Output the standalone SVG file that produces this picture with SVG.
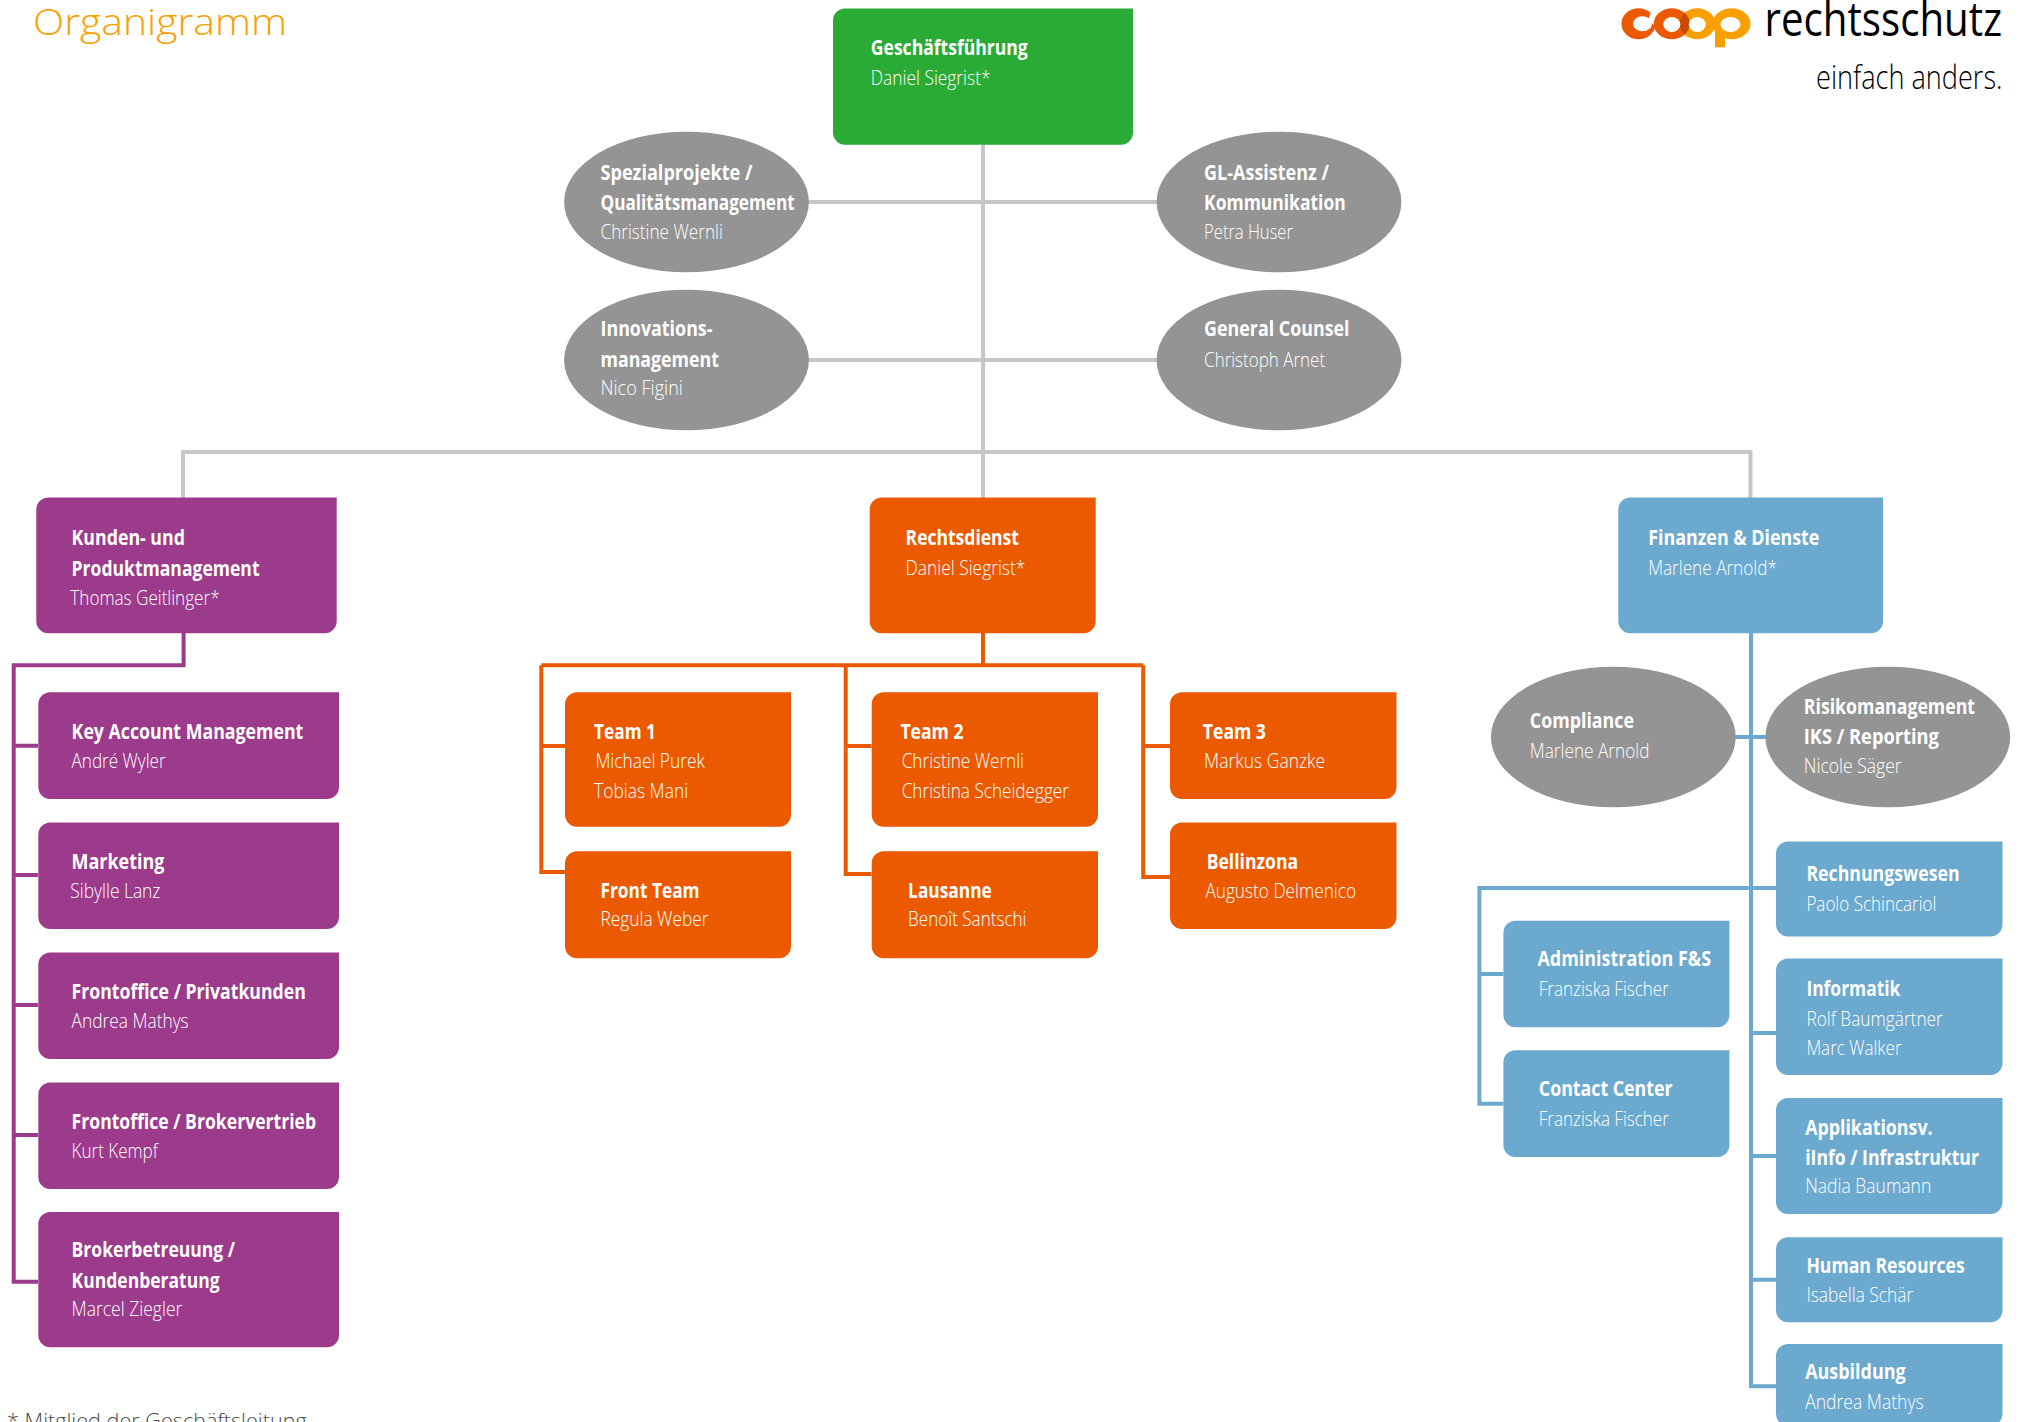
<svg xmlns="http://www.w3.org/2000/svg" width="2018" height="1422" viewBox="0 0 2018 1422">
<style>
.l{fill:none;stroke-width:4}
.g{stroke:#c6c6c6}.pl{stroke:#9c3a8c}.ol{stroke:#eb5a00}.bl{stroke:#6ba9cf}
.grn{fill:#29ab36}.pu{fill:#9c3a8c}.or{fill:#eb5a00}.bu{fill:#6ba9cf}.gy{fill:#949494}
text{font-family:"Open Sans","Noto Sans",sans-serif}
.b{fill:#fff;font-size:20.5px;font-weight:700;transform:translateX(.8px)}
.n{fill:#fff;font-size:20.5px;font-weight:300;transform:translateX(.8px)}
</style>
<defs><clipPath id="o2clip"><ellipse cx="1697.300" cy="23.800" rx="18" ry="15.500"/></clipPath></defs>
<rect width="2018" height="1422" fill="#fff"/>
<text id="title" x="33" y="34.500" font-size="37.500" font-weight="300" fill="#f9a000" textLength="254" lengthAdjust="spacingAndGlyphs">Organigramm</text>
<g id="logo">
<ellipse cx="1638.500" cy="23.800" rx="17" ry="15.500" fill="#eb5a00"/>
<ellipse cx="1642.500" cy="23.800" rx="9.500" ry="7.500" fill="#fff"/>
<path d="M1648 20L1653 7H1664L1655 26z" fill="#fff"/>
<ellipse cx="1671.800" cy="23.800" rx="18" ry="15.500" fill="#eb5a00"/>
<ellipse cx="1697.300" cy="23.800" rx="18" ry="15.500" fill="#f9a000"/>
<ellipse cx="1671.800" cy="23.800" rx="18" ry="15.500" fill="#c94a00" clip-path="url(#o2clip)"/>
<rect x="1715" y="26" width="10" height="21.300" fill="#f9a000"/>
<ellipse cx="1731.500" cy="23.800" rx="19" ry="15.500" fill="#f9a000"/>
<ellipse cx="1671.800" cy="24.500" rx="8.500" ry="7.500" fill="#fff"/>
<ellipse cx="1697.300" cy="24.500" rx="8.500" ry="7.500" fill="#fff"/>
<ellipse cx="1730.500" cy="24.500" rx="10" ry="7.500" fill="#fff"/>
</g>
<text id="logotext" x="1764.500" y="36" font-size="47" fill="#000" textLength="237.500" lengthAdjust="spacingAndGlyphs">rechtsschutz</text>
<text id="slogan" x="1816" y="89" font-size="33" font-weight="300" fill="#000" textLength="186.500" lengthAdjust="spacingAndGlyphs">einfach anders.</text>
<text id="footnote" x="7" y="1427.500" font-size="21" font-weight="300" fill="#4a4a4a" textLength="299.700" lengthAdjust="spacingAndGlyphs">* Mitglied der Geschäftsleitung</text>
<g id="connectors">
<path class="l g" d="M983 144V498M808 202H1157M808 360H1157M183 498V452H1750.500V498"/>
<path class="l pl" d="M183.600 633V665.300H13.700V1281.700H38M13.700 745.700H38M13.700 875H38M13.700 1005H38M13.700 1135H38"/>
<path class="l ol" d="M983 633V665.300M541.300 665.300H1143.200M541.300 665.300V872H565M541.300 746H565M845.700 665.300V874H871.500M845.700 746H871.500M1143.200 665.300V877H1170M1143.200 746H1170"/>
<path class="l bl" d="M1751 633V1386.300H1776M1735 737H1766M1776 888H1479.400V1103.700H1503.400M1479.400 974H1503.400M1751 1033H1776M1751 1156H1776M1751 1279.800H1776"/>
</g>
<g id="n-gf"><path class="grn" d="M845 8.500H1133V132.700a12 12 0 0 1 -12 12H845a12 12 0 0 1 -12 -12V20.500a12 12 0 0 1 12 -12z"/>
<text class="b" x="870" y="55.100" textLength="157" lengthAdjust="spacingAndGlyphs">Geschäftsführung</text><text class="n" x="870" y="84.700" textLength="119.700" lengthAdjust="spacingAndGlyphs">Daniel Siegrist*</text></g>
<g id="n-spez"><ellipse class="gy" cx="686.500" cy="202" rx="122.400" ry="70.300"/>
<text class="b" x="599.700" y="180" textLength="151.900" lengthAdjust="spacingAndGlyphs">Spezialprojekte /</text><text class="b" x="599.700" y="209.600" textLength="194.300" lengthAdjust="spacingAndGlyphs">Qualitätsmanagement</text><text class="n" x="599.700" y="239.200" textLength="122.300" lengthAdjust="spacingAndGlyphs">Christine Wernli</text></g>
<g id="n-gl"><ellipse class="gy" cx="1279" cy="202" rx="122.400" ry="70.300"/>
<text class="b" x="1203.300" y="180" textLength="124.800" lengthAdjust="spacingAndGlyphs">GL-Assistenz /</text><text class="b" x="1203.300" y="209.600" textLength="141.600" lengthAdjust="spacingAndGlyphs">Kommunikation</text><text class="n" x="1203.300" y="239.200" textLength="88.800" lengthAdjust="spacingAndGlyphs">Petra Huser</text></g>
<g id="n-inno"><ellipse class="gy" cx="686.500" cy="360" rx="122.400" ry="70.300"/>
<text class="b" x="599.700" y="335.700" textLength="112" lengthAdjust="spacingAndGlyphs">Innovations-</text><text class="b" x="599.700" y="366.600" textLength="118.400" lengthAdjust="spacingAndGlyphs">management</text><text class="n" x="599.700" y="394.900" textLength="82.400" lengthAdjust="spacingAndGlyphs">Nico Figini</text></g>
<g id="n-gc"><ellipse class="gy" cx="1279" cy="360" rx="122.400" ry="70.300"/>
<text class="b" x="1203.300" y="335.700" textLength="145.400" lengthAdjust="spacingAndGlyphs">General Counsel</text><text class="n" x="1203.300" y="366.600" textLength="121" lengthAdjust="spacingAndGlyphs">Christoph Arnet</text></g>
<g id="n-kunden"><path class="pu" d="M48.300 497.500H336.700V621.300a12 12 0 0 1 -12 12H48.300a12 12 0 0 1 -12 -12V509.500a12 12 0 0 1 12 -12z"/>
<text class="b" x="70.800" y="545.200" textLength="113.300" lengthAdjust="spacingAndGlyphs">Kunden- und</text><text class="b" x="70.800" y="575.500" textLength="187.900" lengthAdjust="spacingAndGlyphs">Produktmanagement</text><text class="n" x="69.500" y="604.500" textLength="149.300" lengthAdjust="spacingAndGlyphs">Thomas Geitlinger*</text></g>
<g id="n-recht"><path class="or" d="M881.700 497.500H1095.700V621.300a12 12 0 0 1 -12 12H881.700a12 12 0 0 1 -12 -12V509.500a12 12 0 0 1 12 -12z"/>
<text class="b" x="904.800" y="545.200" textLength="113.300" lengthAdjust="spacingAndGlyphs">Rechtsdienst</text><text class="n" x="904.800" y="575.100" textLength="119.700" lengthAdjust="spacingAndGlyphs">Daniel Siegrist*</text></g>
<g id="n-fin"><path class="bu" d="M1630.300 497.500H1883V621.300a12 12 0 0 1 -12 12H1630.300a12 12 0 0 1 -12 -12V509.500a12 12 0 0 1 12 -12z"/>
<text class="b" x="1647.400" y="545.200" textLength="171.200" lengthAdjust="spacingAndGlyphs">Finanzen &amp; Dienste</text><text class="n" x="1647.400" y="575.100" textLength="128.700" lengthAdjust="spacingAndGlyphs">Marlene Arnold*</text></g>
<g id="n-key"><path class="pu" d="M50.300 692.300H339V787a12 12 0 0 1 -12 12H50.300a12 12 0 0 1 -12 -12V704.300a12 12 0 0 1 12 -12z"/>
<text class="b" x="70.800" y="738.500" textLength="231.700" lengthAdjust="spacingAndGlyphs">Key Account Management</text><text class="n" x="70.800" y="767.700" textLength="94" lengthAdjust="spacingAndGlyphs">André Wyler</text></g>
<g id="n-mark"><path class="pu" d="M50.300 822.500H339V917a12 12 0 0 1 -12 12H50.300a12 12 0 0 1 -12 -12V834.500a12 12 0 0 1 12 -12z"/>
<text class="b" x="70.800" y="868.500" textLength="92.700" lengthAdjust="spacingAndGlyphs">Marketing</text><text class="n" x="69.500" y="898.100" textLength="90.100" lengthAdjust="spacingAndGlyphs">Sibylle Lanz</text></g>
<g id="n-priv"><path class="pu" d="M50.300 952.500H339V1047a12 12 0 0 1 -12 12H50.300a12 12 0 0 1 -12 -12V964.500a12 12 0 0 1 12 -12z"/>
<text class="b" x="70.800" y="998.500" textLength="234.200" lengthAdjust="spacingAndGlyphs">Frontoffice / Privatkunden</text><text class="n" x="70.800" y="1028.100" textLength="117.100" lengthAdjust="spacingAndGlyphs">Andrea Mathys</text></g>
<g id="n-brok"><path class="pu" d="M50.300 1082.500H339V1177a12 12 0 0 1 -12 12H50.300a12 12 0 0 1 -12 -12V1094.500a12 12 0 0 1 12 -12z"/>
<text class="b" x="70.800" y="1128.500" textLength="244.500" lengthAdjust="spacingAndGlyphs">Frontoffice / Brokervertrieb</text><text class="n" x="70.800" y="1158" textLength="86.200" lengthAdjust="spacingAndGlyphs">Kurt Kempf</text></g>
<g id="n-betr"><path class="pu" d="M50.300 1212H339V1335.300a12 12 0 0 1 -12 12H50.300a12 12 0 0 1 -12 -12V1224a12 12 0 0 1 12 -12z"/>
<text class="b" x="70.800" y="1257.300" textLength="163.400" lengthAdjust="spacingAndGlyphs">Brokerbetreuung /</text><text class="b" x="70.800" y="1287.700" textLength="148" lengthAdjust="spacingAndGlyphs">Kundenberatung</text><text class="n" x="70.800" y="1316.400" textLength="110.700" lengthAdjust="spacingAndGlyphs">Marcel Ziegler</text></g>
<g id="n-t1"><path class="or" d="M577 692.300H791V814.700a12 12 0 0 1 -12 12H577a12 12 0 0 1 -12 -12V704.300a12 12 0 0 1 12 -12z"/>
<text class="b" x="593.300" y="738.500" textLength="61.800" lengthAdjust="spacingAndGlyphs">Team 1</text><text class="n" x="594.600" y="768.100" textLength="109.400" lengthAdjust="spacingAndGlyphs">Michael Purek</text><text class="n" x="593.300" y="797.700" textLength="94" lengthAdjust="spacingAndGlyphs">Tobias Mani</text></g>
<g id="n-front"><path class="or" d="M577 851.300H791V946.300a12 12 0 0 1 -12 12H577a12 12 0 0 1 -12 -12V863.300a12 12 0 0 1 12 -12z"/>
<text class="b" x="599.700" y="898.100" textLength="99.100" lengthAdjust="spacingAndGlyphs">Front Team</text><text class="n" x="599.700" y="926.400" textLength="108.100" lengthAdjust="spacingAndGlyphs">Regula Weber</text></g>
<g id="n-t2"><path class="or" d="M883.700 692.300H1098V814.700a12 12 0 0 1 -12 12H883.700a12 12 0 0 1 -12 -12V704.300a12 12 0 0 1 12 -12z"/>
<text class="b" x="899.600" y="738.500" textLength="63.100" lengthAdjust="spacingAndGlyphs">Team 2</text><text class="n" x="900.900" y="768.100" textLength="122.300" lengthAdjust="spacingAndGlyphs">Christine Wernli</text><text class="n" x="900.900" y="797.700" textLength="167.300" lengthAdjust="spacingAndGlyphs">Christina Scheidegger</text></g>
<g id="n-laus"><path class="or" d="M883.700 851.300H1098V946.300a12 12 0 0 1 -12 12H883.700a12 12 0 0 1 -12 -12V863.300a12 12 0 0 1 12 -12z"/>
<text class="b" x="907.300" y="898.100" textLength="83.700" lengthAdjust="spacingAndGlyphs">Lausanne</text><text class="n" x="907.300" y="926.400" textLength="118.400" lengthAdjust="spacingAndGlyphs">Benoît Santschi</text></g>
<g id="n-t3"><path class="or" d="M1182 692.300H1396.500V787a12 12 0 0 1 -12 12H1182a12 12 0 0 1 -12 -12V704.300a12 12 0 0 1 12 -12z"/>
<text class="b" x="1202" y="738.500" textLength="63.100" lengthAdjust="spacingAndGlyphs">Team 3</text><text class="n" x="1203.300" y="768.100" textLength="121" lengthAdjust="spacingAndGlyphs">Markus Ganzke</text></g>
<g id="n-bell"><path class="or" d="M1182 822.500H1396.500V917a12 12 0 0 1 -12 12H1182a12 12 0 0 1 -12 -12V834.500a12 12 0 0 1 12 -12z"/>
<text class="b" x="1205.900" y="868.500" textLength="91.400" lengthAdjust="spacingAndGlyphs">Bellinzona</text><text class="n" x="1204.600" y="898.100" textLength="150.600" lengthAdjust="spacingAndGlyphs">Augusto Delmenico</text></g>
<g id="n-comp"><ellipse class="gy" cx="1613.300" cy="737" rx="122.400" ry="70.300"/>
<text class="b" x="1529" y="728.200" textLength="104.200" lengthAdjust="spacingAndGlyphs">Compliance</text><text class="n" x="1529" y="757.800" textLength="119.700" lengthAdjust="spacingAndGlyphs">Marlene Arnold</text></g>
<g id="n-risk"><ellipse class="gy" cx="1887.800" cy="737" rx="122.400" ry="70.300"/>
<text class="b" x="1803" y="714" textLength="171.200" lengthAdjust="spacingAndGlyphs">Risikomanagement</text><text class="b" x="1803" y="743.700" textLength="135.100" lengthAdjust="spacingAndGlyphs">IKS / Reporting</text><text class="n" x="1803" y="773.300" textLength="97.800" lengthAdjust="spacingAndGlyphs">Nicole Säger</text></g>
<g id="n-rech"><path class="bu" d="M1788 841.500H2002.500V924.500a12 12 0 0 1 -12 12H1788a12 12 0 0 1 -12 -12V853.500a12 12 0 0 1 12 -12z"/>
<text class="b" x="1805.600" y="881.400" textLength="153.200" lengthAdjust="spacingAndGlyphs">Rechnungswesen</text><text class="n" x="1805.600" y="911" textLength="130" lengthAdjust="spacingAndGlyphs">Paolo Schincariol</text></g>
<g id="n-info"><path class="bu" d="M1788 958.500H2002.500V1063a12 12 0 0 1 -12 12H1788a12 12 0 0 1 -12 -12V970.500a12 12 0 0 1 12 -12z"/>
<text class="b" x="1805.600" y="995.900" textLength="94" lengthAdjust="spacingAndGlyphs">Informatik</text><text class="n" x="1805.600" y="1025.500" textLength="136.400" lengthAdjust="spacingAndGlyphs">Rolf Baumgärtner</text><text class="n" x="1805.600" y="1055.100" textLength="95.200" lengthAdjust="spacingAndGlyphs">Marc Walker</text></g>
<g id="n-appl"><path class="bu" d="M1788 1098H2002.500V1202a12 12 0 0 1 -12 12H1788a12 12 0 0 1 -12 -12V1110a12 12 0 0 1 12 -12z"/>
<text class="b" x="1804.400" y="1134.900" textLength="127.400" lengthAdjust="spacingAndGlyphs">Applikationsv.</text><text class="b" x="1804.400" y="1164.500" textLength="173.700" lengthAdjust="spacingAndGlyphs">iInfo / Infrastruktur</text><text class="n" x="1804.400" y="1192.800" textLength="126.100" lengthAdjust="spacingAndGlyphs">Nadia Baumann</text></g>
<g id="n-hr"><path class="bu" d="M1788 1237.300H2002.500V1310.300a12 12 0 0 1 -12 12H1788a12 12 0 0 1 -12 -12V1249.300a12 12 0 0 1 12 -12z"/>
<text class="b" x="1805.600" y="1272.600" textLength="158.300" lengthAdjust="spacingAndGlyphs">Human Resources</text><text class="n" x="1805.600" y="1302.200" textLength="106.800" lengthAdjust="spacingAndGlyphs">Isabella Schär</text></g>
<g id="n-ausb"><path class="bu" d="M1788 1344H2002.500V1414a12 12 0 0 1 -12 12H1788a12 12 0 0 1 -12 -12V1356a12 12 0 0 1 12 -12z"/>
<text class="b" x="1804.400" y="1379.300" textLength="100.400" lengthAdjust="spacingAndGlyphs">Ausbildung</text><text class="n" x="1804.400" y="1408.500" textLength="118.400" lengthAdjust="spacingAndGlyphs">Andrea Mathys</text></g>
<g id="n-admin"><path class="bu" d="M1515.400 920.700H1729.400V1015.300a12 12 0 0 1 -12 12H1515.400a12 12 0 0 1 -12 -12V932.700a12 12 0 0 1 12 -12z"/>
<text class="b" x="1536.700" y="966.300" textLength="173.700" lengthAdjust="spacingAndGlyphs">Administration F&amp;S</text><text class="n" x="1538" y="995.900" textLength="130" lengthAdjust="spacingAndGlyphs">Franziska Fischer</text></g>
<g id="n-contact"><path class="bu" d="M1515.400 1050.300H1729.400V1145a12 12 0 0 1 -12 12H1515.400a12 12 0 0 1 -12 -12V1062.300a12 12 0 0 1 12 -12z"/>
<text class="b" x="1538" y="1096.300" textLength="133.800" lengthAdjust="spacingAndGlyphs">Contact Center</text><text class="n" x="1538" y="1125.900" textLength="130" lengthAdjust="spacingAndGlyphs">Franziska Fischer</text></g>
</svg>
